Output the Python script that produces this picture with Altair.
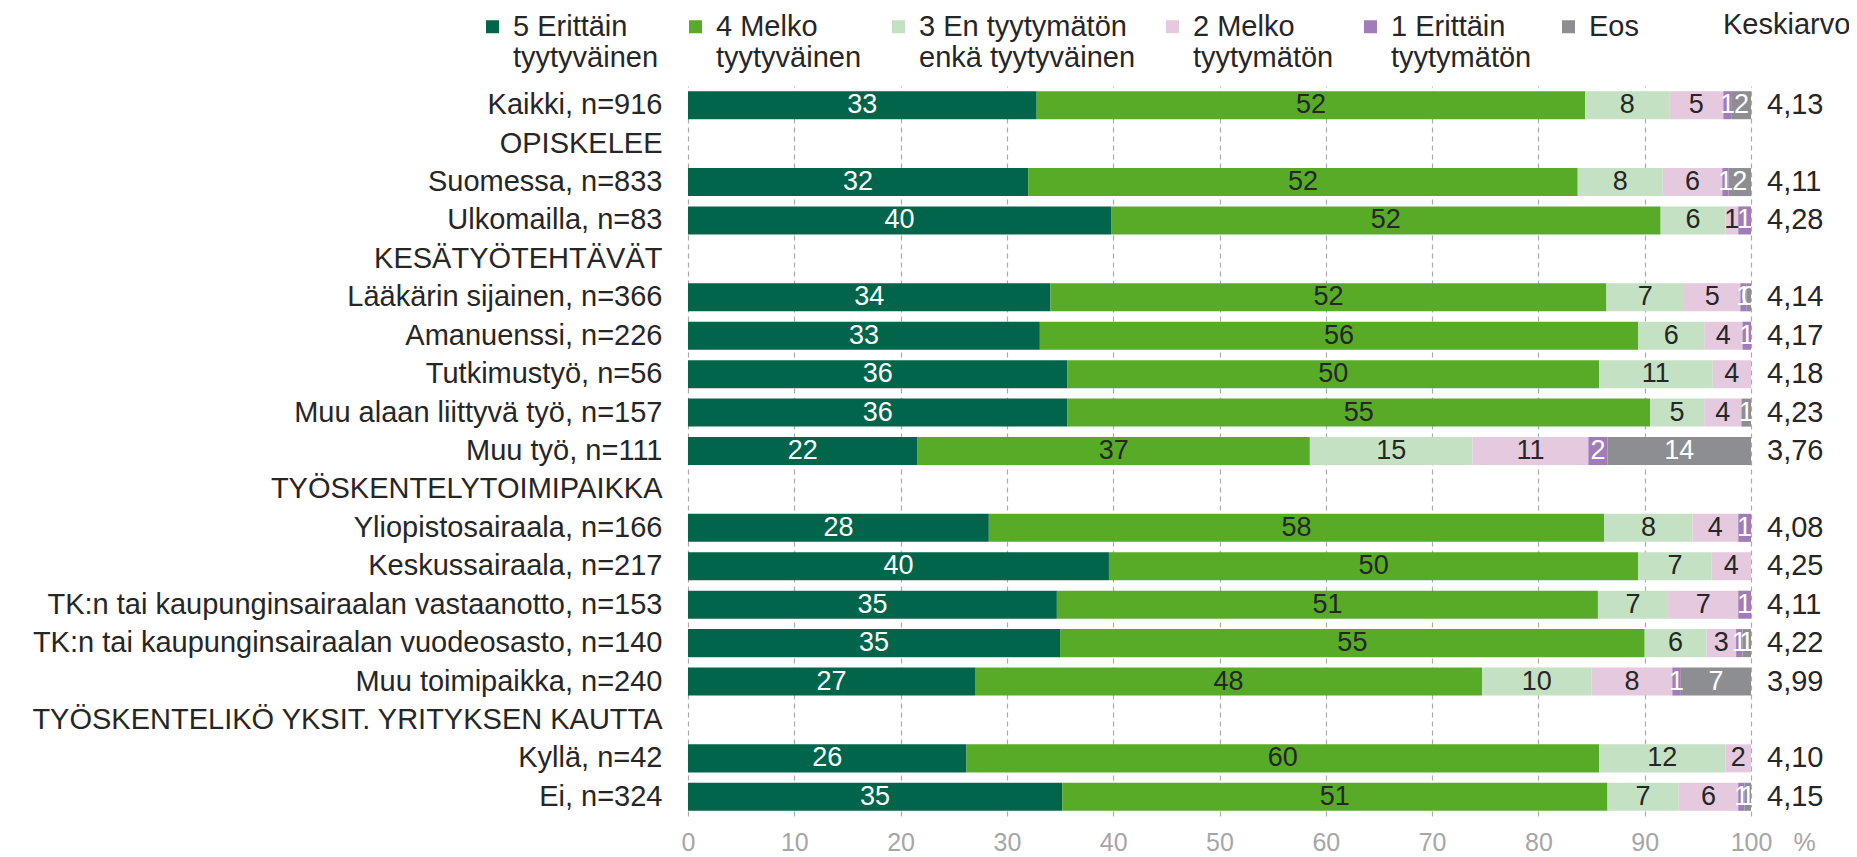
import altair as alt
import pandas as pd

# Row order (including section headers without bars)
rows = [
    "Kaikki, n=916",
    "OPISKELEE",
    "Suomessa, n=833",
    "Ulkomailla, n=83",
    "KESÄTYÖTEHTÄVÄT",
    "Lääkärin sijainen, n=366",
    "Amanuenssi, n=226",
    "Tutkimustyö, n=56",
    "Muu alaan liittyvä työ, n=157",
    "Muu työ, n=111",
    "TYÖSKENTELYTOIMIPAIKKA",
    "Yliopistosairaala, n=166",
    "Keskussairaala, n=217",
    "TK:n tai kaupunginsairaalan vastaanotto, n=153",
    "TK:n tai kaupunginsairaalan vuodeosasto, n=140",
    "Muu toimipaikka, n=240",
    "TYÖSKENTELIKÖ YKSIT. YRITYKSEN KAUTTA",
    "Kyllä, n=42",
    "Ei, n=324",
]

groups = [
    "Kaikki, n=916",
    "Suomessa, n=833",
    "Ulkomailla, n=83",
    "Lääkärin sijainen, n=366",
    "Amanuenssi, n=226",
    "Tutkimustyö, n=56",
    "Muu alaan liittyvä työ, n=157",
    "Muu työ, n=111",
    "Yliopistosairaala, n=166",
    "Keskussairaala, n=217",
    "TK:n tai kaupunginsairaalan vastaanotto, n=153",
    "TK:n tai kaupunginsairaalan vuodeosasto, n=140",
    "Muu toimipaikka, n=240",
    "Kyllä, n=42",
    "Ei, n=324",
]

cats = [
    "5 Erittäin|tyytyväinen",
    "4 Melko|tyytyväinen",
    "3 En tyytymätön|enkä tyytyväinen",
    "2 Melko|tyytymätön",
    "1 Erittäin|tyytymätön",
    "Eos|",
]
colors = ["#00654B", "#57AB27", "#C4E2C3", "#E4C9DF", "#A17CB8", "#8D8E91"]
dark_cats = [True, False, False, False, True, True]

v5 = [32.8, 32.0, 39.8, 34.1, 33.1, 35.7, 35.7, 21.6, 28.3, 39.6, 34.7, 35.0, 27.0, 26.2, 35.2]
v4 = [51.6, 51.7, 51.7, 52.3, 56.3, 50.0, 54.8, 36.9, 57.9, 49.8, 50.9, 55.0, 47.7, 59.5, 51.3]
v3 = [7.9, 8.0, 6.1, 7.3, 6.2, 10.7, 5.1, 15.3, 8.3, 6.9, 6.6, 5.8, 10.3, 11.9, 6.7]
v2 = [5.1, 5.6, 1.2, 5.3, 3.6, 3.6, 3.5, 10.9, 4.3, 3.7, 6.6, 2.8, 7.6, 2.4, 5.6]
v1 = [0.8, 0.6, 1.2, 0.6, 0.8, 0.0, 0.0, 1.8, 1.2, 0.0, 1.2, 0.6, 0.8, 0.0, 0.6]
eos = [1.8, 2.1, 0.0, 0.4, 0.0, 0.0, 0.9, 13.5, 0.0, 0.0, 0.0, 0.8, 6.6, 0.0, 0.6]

means = [4.13, 4.11, 4.28, 4.14, 4.17, 4.18, 4.23, 3.76, 4.08, 4.25, 4.11, 4.22, 3.99, 4.10, 4.15]

series = [v5, v4, v3, v2, v1, eos]
records = []
for i, g in enumerate(groups):
    start = 0.0
    for c, vals, dk in zip(cats, series, dark_cats):
        v = vals[i]
        if v > 0:
            records.append(dict(row=g, cat=c, start=start, end=start + v,
                                mid=start + v / 2, val=v, dark=dk))
        start += v
df = pd.DataFrame(records)
mdf = pd.DataFrame({"row": groups, "mean": means})
hdf = pd.DataFrame({"t": ["Keskiarvo"]})

W, H = 1063, 730
TXT = "#262626"
FS = 29
yscale = alt.Scale(domain=rows, paddingInner=0.27, paddingOuter=0.135)
ysort = rows

bars = alt.Chart(df).mark_bar().encode(
    y=alt.Y("row:N", scale=yscale, sort=ysort,
            axis=alt.Axis(title=None, labelFontSize=FS, labelColor=TXT,
                          labelPadding=26, ticks=False, domain=False,
                          labelLimit=900, grid=False)),
    x=alt.X("start:Q", scale=alt.Scale(domain=[0, 100], nice=False),
            axis=alt.Axis(values=list(range(0, 101, 10)), title="%",
                          grid=True, gridDash=[5, 4], gridColor="#ABABAB",
                          gridWidth=1.2, ticks=False, domain=False,
                          labelFlush=False,
                          labelPadding=14, labelFontSize=25,
                          labelColor="#A6A6A6", titleX=1116, titleY=14,
                          titleBaseline="top", titleFontSize=25,
                          titleColor="#A6A6A6", titleFontWeight="normal",
                          titleAlign="center")),
    x2="end:Q",
    color=alt.Color("cat:N", scale=alt.Scale(domain=cats, range=colors),
                    legend=alt.Legend(
                        title=None, orient="none", direction="horizontal",
                        legendX=-210, legendY=-74,
                        symbolType="square",
                        symbolSize=169, symbolStrokeWidth=0,
                        labelFontSize=FS, labelColor=TXT,
                        labelExpr="split(datum.label, '|')",
                        labelBaseline="middle",
                        labelOffset=6, labelLimit=500,
                        columnPadding=22, padding=0)),
)

labels = alt.Chart(df).mark_text(fontSize=27, baseline="middle", align="center").encode(
    y=alt.Y("row:N", scale=yscale, sort=ysort),
    x=alt.X("mid:Q"),
    text=alt.Text("val:Q", format=".0f"),
    color=alt.condition("datum.dark", alt.value("white"), alt.value(TXT)),
)

mean_t = alt.Chart(mdf).transform_calculate(
    lbl="replace(format(datum.mean, '.2f'), '.', ',')"
).mark_text(fontSize=FS, align="left", baseline="middle", color=TXT).encode(
    y=alt.Y("row:N", scale=yscale, sort=ysort),
    x=alt.value(1079),
    text="lbl:N",
)

head = alt.Chart(hdf).mark_text(fontSize=FS, align="left", baseline="middle", color=TXT).encode(
    x=alt.value(1035), y=alt.value(-61), text="t:N"
)

chart = alt.layer(bars, labels, mean_t, head).properties(
    width=W, height=H,
    autosize=alt.AutoSizeParams(type="none"),
    padding={"left": 680, "top": 78, "right": 98, "bottom": 38},
).configure(font="Liberation Sans").configure_view(stroke=None)

chart.save("out.html", embed_options={"renderer": "svg", "actions": False})
